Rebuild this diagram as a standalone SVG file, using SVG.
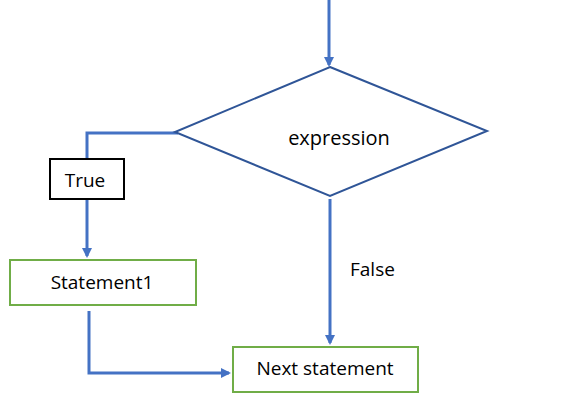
<svg xmlns="http://www.w3.org/2000/svg" width="587" height="406" viewBox="0 0 587 406">
<style>
text{font-family:"Open Sans","Liberation Sans",Arial,sans-serif;font-size:19px;fill:#000}
.conn{fill:none;stroke:#4472C4;stroke-width:3}
.green{fill:#fff;stroke:#70AD47;stroke-width:2}
</style>
<defs>
<marker id="ah" markerWidth="10" markerHeight="10" refX="8" refY="5" orient="auto" markerUnits="userSpaceOnUse" viewBox="0 0 10 10">
<path d="M0,0 L10,5 L0,10 z" fill="#4472C4"/>
</marker>
</defs>
<rect width="587" height="406" fill="#fff"/>
<g id="connectors">
<path class="conn" d="M329,0 V65" marker-end="url(#ah)"/>
<path class="conn" d="M178,133 H87 V160"/>
<path class="conn" d="M87,199 V256" marker-end="url(#ah)"/>
<path class="conn" d="M330,199 V343" marker-end="url(#ah)"/>
<path class="conn" d="M89,311 V373 H229" marker-end="url(#ah)"/>
</g>
<g id="decision">
<polygon points="330,67 487,131 330,196 175,132" fill="#fff" stroke="#2F5597" stroke-width="2"/>
<text x="339" y="145" text-anchor="middle" style="font-size:20px">expression</text>
</g>
<g id="true-label">
<rect x="50" y="159" width="74" height="40" fill="#fff" stroke="#000" stroke-width="2"/>
<text x="85" y="187" text-anchor="middle">True</text>
</g>
<g id="statement1">
<rect class="green" x="10" y="260" width="186" height="45"/>
<text x="102" y="289" text-anchor="middle">Statement1</text>
</g>
<g id="false-label">
<text x="350" y="276">False</text>
</g>
<g id="next">
<rect class="green" x="233" y="347" width="185" height="45"/>
<text x="325" y="375" text-anchor="middle">Next statement</text>
</g>
</svg>
